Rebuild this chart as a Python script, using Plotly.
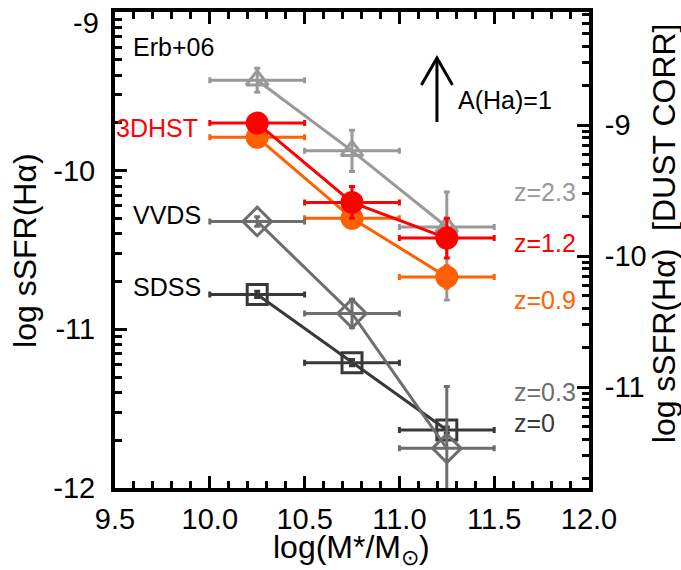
import numpy as np
import plotly.graph_objects as go

# ---------------- data ----------------
mass = [10.25, 10.75, 11.25]
mass_err = [0.25, 0.25, 0.25]

erb_ssfr = [-9.43, -9.875, -10.355]
erb_err_up = [0.075, 0.13, 0.22]
erb_err_dn = [0.075, 0.13, 0.46]

hst12_ssfr = [-9.70, -10.20, -10.425]
hst12_err = [0.04, 0.10, 0.125]

hst09_ssfr = [-9.79, -10.30, -10.67]
hst09_err = [0.04, 0.06, 0.07]

vvds_ssfr = [-10.32, -10.90, -11.75]
vvds_err = [0.03, 0.09, 0.39]

sdss_ssfr = [-10.78, -11.21, -11.635]
sdss_err = [0.02, 0.02, 0.02]

x_ticks = [9.5, 10.0, 10.5, 11.0, 11.5, 12.0]
y_ticks = [-12, -11, -10, -9]
y2_ticks = [-11, -10, -9]

# ---------------- styles ----------------
C_ERB = "#999999"
C_12 = "#FF0000"
C_09 = "#FF6000"
C_VV = "#6E6E6E"
C_SD = "#383838"
FONT = "Liberation Sans, Arial, sans-serif"

fig = go.Figure()


def add_series(y, ey_up, ey_dn, color, symbol, size):
    fig.add_trace(go.Scatter(
        x=mass, y=y, mode="lines+markers",
        line=dict(color=color, width=3),
        marker=dict(symbol=symbol, size=size, color=color,
                    line=dict(color=color, width=3)),
        error_x=dict(type="data", array=mass_err, color=color,
                     thickness=3, width=3),
        error_y=dict(type="data", array=ey_up, arrayminus=ey_dn,
                     symmetric=False, color=color, thickness=3, width=3),
        showlegend=False, hoverinfo="x+y",
    ))


add_series(erb_ssfr, erb_err_up, erb_err_dn, C_ERB, "triangle-up-open", 19)
add_series(hst09_ssfr, hst09_err, hst09_err, C_09, "circle", 20)
add_series(hst12_ssfr, hst12_err, hst12_err, C_12, "circle", 20)
add_series(sdss_ssfr, sdss_err, sdss_err, C_SD, "square-open", 20)
add_series(vvds_ssfr, vvds_err, vvds_err, C_VV, "diamond-open", 22)

# log-style minor tick positions (IDL look)
ks = np.arange(2, 10)
Y_RANGE = [-12, -9]
Y2_RANGE = [-11.771, -8.137]
left_minor = [d + np.log10(k) for d in (-12, -11, -10) for k in ks]
right_minor = [d + np.log10(k) for d in (-12, -11, -10, -9) for k in ks]
right_minor = [v for v in right_minor if Y2_RANGE[0] < v < Y2_RANGE[1]]
x_minor = [round(9.5 + 0.1 * i, 2) for i in range(26)]

tickfont = dict(family=FONT, size=29, color="black")
common = dict(showgrid=False, zeroline=False, automargin=False)
MAJ, MIN = 12, 7

fig.update_layout(
    width=681, height=570,
    margin=dict(l=115, r=92, t=12, b=82),
    paper_bgcolor="white", plot_bgcolor="white",
    font=dict(family=FONT, color="black"),
    xaxis=dict(
        range=[9.5, 12.0], tickmode="array", tickvals=x_ticks,
        ticktext=[f"{v:.1f}" for v in x_ticks],
        ticks="inside", ticklen=MAJ, tickwidth=3, tickcolor="black",
        showline=True, linewidth=4, linecolor="black", mirror="ticks",
        tickfont=tickfont, ticklabelstandoff=2, **common,
    ),
    xaxis2=dict(
        overlaying="x", anchor="y", side="bottom",
        range=[9.5, 12.0], tickmode="array", tickvals=x_minor,
        ticks="inside", ticklen=MIN, tickwidth=3, tickcolor="black",
        showticklabels=False, showline=False, mirror="ticks", **common,
    ),
    yaxis=dict(
        range=Y_RANGE, tickmode="array", tickvals=y_ticks,
        ticktext=[f"{v:g}" if v != -9 else "" for v in y_ticks],
        ticks="inside", ticklen=MAJ, tickwidth=3, tickcolor="black",
        showline=True, linewidth=4, linecolor="black", mirror=False,
        tickfont=tickfont, ticklabelstandoff=10, **common,
    ),
    yaxis2=dict(
        overlaying="y", side="right", anchor="x",
        range=Y2_RANGE, tickmode="array", tickvals=y2_ticks,
        ticktext=[f"{v:g}" for v in y2_ticks],
        ticks="inside", ticklen=MAJ, tickwidth=3, tickcolor="black",
        showline=True, linewidth=4, linecolor="black",
        tickfont=tickfont, ticklabelstandoff=6, **common,
    ),
    yaxis3=dict(
        overlaying="y", side="left", anchor="x",
        range=Y_RANGE, tickmode="array", tickvals=left_minor,
        ticks="inside", ticklen=MIN, tickwidth=3, tickcolor="black",
        showticklabels=False, showline=False, **common,
    ),
    yaxis4=dict(
        overlaying="y", side="right", anchor="x",
        range=Y2_RANGE, tickmode="array", tickvals=right_minor,
        ticks="inside", ticklen=MIN, tickwidth=3, tickcolor="black",
        showticklabels=False, showline=False, **common,
    ),
)

# invisible traces so the extra axes are drawn
for xa, ya in (("x", "y2"), ("x", "y3"), ("x", "y4"), ("x2", "y")):
    fig.add_trace(go.Scatter(x=[None], y=[None], xaxis=xa, yaxis=ya,
                             showlegend=False, hoverinfo="skip"))

# top left-axis label (would be clipped as a tick label)
fig.add_annotation(xref="paper", yref="paper", x=-0.03, y=0.976,
                   text=f"{y_ticks[-1]:g}", showarrow=False,
                   xanchor="right", yanchor="middle", font=tickfont)

# ---------------- axis titles ----------------
title_font = dict(family=FONT, size=32, color="black")
fig.add_annotation(xref="paper", yref="paper", x=0.498, y=-0.13,
                   text="log(M*/M<sub>⊙</sub>)", showarrow=False,
                   font=title_font, xanchor="center", yanchor="middle")
fig.add_annotation(xref="paper", yref="paper", x=-0.19, y=0.5,
                   text="log sSFR(Hα)", textangle=-90, showarrow=False,
                   font=title_font, xanchor="center", yanchor="middle")
fig.add_annotation(xref="paper", yref="paper", x=1.158, y=0.535,
                   text="log sSFR(Hα)\u00a0 [DUST CORR]", textangle=-90,
                   showarrow=False, font=title_font,
                   xanchor="center", yanchor="middle")

# ---------------- labels ----------------
labels = [
    ("Erb+06", 9.585, -9.22, "left", "black"),
    ("3DHST", 9.95, -9.73, "right", C_12),
    ("VVDS", 9.585, -10.28, "left", "black"),
    ("SDSS", 9.585, -10.735, "left", "black"),
    ("z=2.3", 11.595, -10.134, "left", C_ERB),
    ("z=1.2", 11.595, -10.456, "left", C_12),
    ("z=0.9", 11.595, -10.815, "left", C_09),
    ("z=0.3", 11.595, -11.395, "left", C_VV),
    ("z=0", 11.595, -11.59, "left", C_SD),
    ("A(Ha)=1", 11.30, -9.555, "left", "black"),
]
for t, x, y, anc, col in labels:
    fig.add_annotation(x=x, y=y, xref="x", yref="y", text=t, showarrow=False,
                       xanchor=anc, yanchor="middle",
                       font=dict(family=FONT, size=25, color=col))

# dust arrow A(Ha)=1
AX = 11.198
AY0, AY1 = -9.693, -9.29
HEAD_DX, HEAD_DY = 0.082, 0.17
fig.add_shape(type="line", xref="x", yref="y", x0=AX, x1=AX, y0=AY0, y1=AY1,
              line=dict(color="black", width=3))
fig.add_shape(type="path", xref="x", yref="y",
              path=f"M {AX-HEAD_DX},{AY1-HEAD_DY} L {AX},{AY1} L {AX+HEAD_DX},{AY1-HEAD_DY}",
              line=dict(color="black", width=3))

fig.write_html("out.html")
